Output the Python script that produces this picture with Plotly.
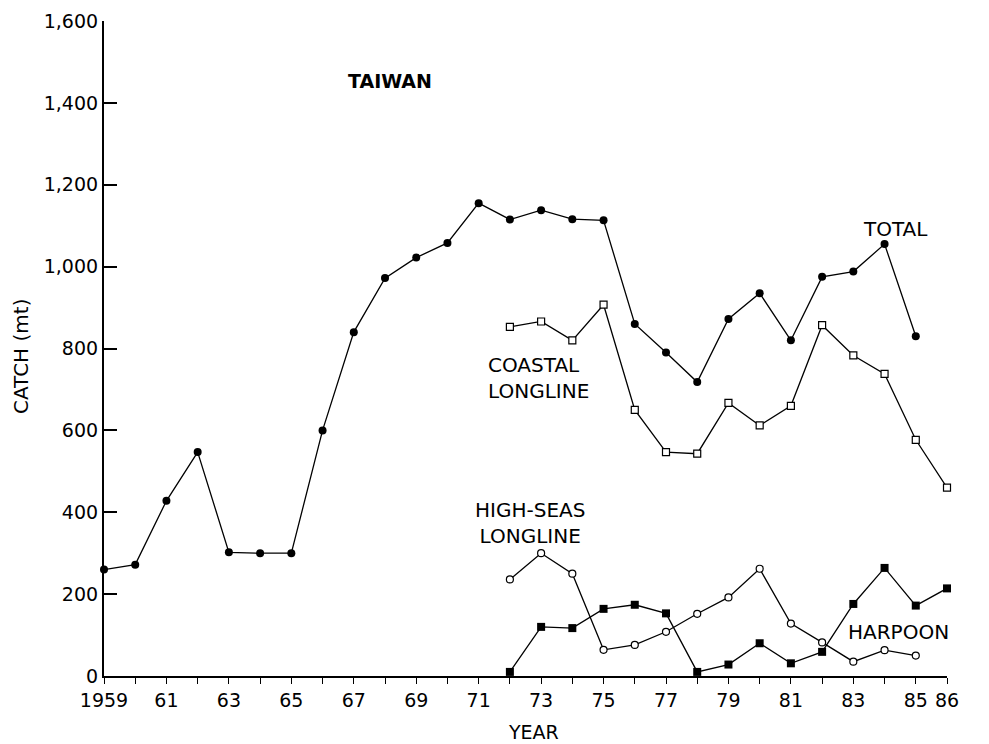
import plotly.graph_objects as go

# ---- data ----
total_years = list(range(1959, 1986))
total_catch = [260, 272, 428, 547, 302, 300, 300, 600, 840, 972, 1022, 1058, 1155,
               1115, 1138, 1116, 1113, 860, 790, 718, 872, 935, 820, 975, 988, 1055, 830]

coastal_years = list(range(1972, 1987))
coastal_catch = [853, 866, 820, 907, 650, 547, 543, 667, 612, 660, 857, 783, 738, 577, 460]

highseas_years = list(range(1972, 1986))
highseas_catch = [236, 300, 250, 64, 76, 108, 152, 192, 262, 128, 82, 35, 63, 50]

harpoon_years = list(range(1972, 1987))
harpoon_catch = [10, 120, 117, 164, 174, 153, 10, 28, 80, 31, 59, 176, 264, 172, 214]

x_tickvals = list(range(1959, 1987))
x_ticktext = ["1959" if y == 1959 else (str(y)[2:] if (y % 2 == 1 or y == 1986) else "")
              for y in x_tickvals]
y_tickvals = [0, 200, 400, 600, 800, 1000, 1200, 1400, 1600]
y_ticktext = ["0", "200", "400", "600", "800", "1,000", "1,200", "1,400", "1,600"]

# ---- geometry (page body has an 8px margin) ----
OFF = 8
W, H = 989 - OFF, 744 - OFF
PL, PR, PT, PB = 104, 947, 21, 676      # plot area in window pixels
ML, MT = PL - OFF, PT - OFF
MR = W - (PR - OFF)
MB = H - (PB - OFF)
FONT = "DejaVu Sans"

fig = go.Figure()
line = dict(color="black", width=1.3)

fig.add_trace(go.Scatter(x=total_years, y=total_catch, mode="lines+markers",
                         line=line, cliponaxis=False,
                         marker=dict(symbol="circle", size=8, color="black")))
fig.add_trace(go.Scatter(x=coastal_years, y=coastal_catch, mode="lines+markers",
                         line=line, cliponaxis=False,
                         marker=dict(symbol="square", size=7, color="white",
                                     line=dict(color="black", width=1.2))))
fig.add_trace(go.Scatter(x=harpoon_years, y=harpoon_catch, mode="lines+markers",
                         line=line, cliponaxis=False,
                         marker=dict(symbol="square", size=8, color="black")))
fig.add_trace(go.Scatter(x=highseas_years, y=highseas_catch, mode="lines+markers",
                         line=line, cliponaxis=False,
                         marker=dict(symbol="circle", size=7, color="white",
                                     line=dict(color="black", width=1.2))))


def px2paper(px, py):
    return (px - PL) / (PR - PL), (PB - py) / (PB - PT)


def add_label(text, px, py, size=20, bold=False, align="center", angle=0):
    x, y = px2paper(px, py)
    fig.add_annotation(x=x, y=y, xref="paper", yref="paper",
                       xanchor="center", yanchor="middle",
                       text=f"<b>{text}</b>" if bold else text,
                       showarrow=False, align=align, textangle=angle,
                       font=dict(family=FONT, size=size, color="black"))


add_label("TAIWAN", 390, 81, size=19, bold=True)
add_label("TOTAL", 895, 229)
add_label("COASTAL<br>LONGLINE", 538, 378, align="left")
add_label("HIGH-SEAS<br>LONGLINE", 530, 523)
add_label("HARPOON", 898, 632)
add_label("CATCH (mt)", 21, 357, size=20, angle=-90)
add_label("YEAR", 533, 732, size=19)

fig.update_layout(
    width=W, height=H,
    margin=dict(l=ML, r=MR, t=MT, b=MB, pad=0, autoexpand=False),
    paper_bgcolor="white", plot_bgcolor="white",
    showlegend=False,
    font=dict(family=FONT, size=18, color="black"),
    xaxis=dict(range=[1959, 1986], tickmode="array", tickvals=x_tickvals,
               ticktext=x_ticktext, ticks="outside", ticklen=6, tickwidth=1.3,
               tickcolor="black", showline=True, linecolor="black", linewidth=2.2,
               showgrid=False, zeroline=False, automargin=False,
               tickfont=dict(size=19, family=FONT)),
    yaxis=dict(range=[0, 1600], tickmode="array", tickvals=y_tickvals,
               ticktext=y_ticktext, ticks="inside", ticklen=13, tickwidth=1.5,
               tickcolor="black", showline=True, linecolor="black", linewidth=2.2,
               showgrid=False, zeroline=False, automargin=False,
               tickfont=dict(size=19, family=FONT)),
)

fig.write_html("out.html")
